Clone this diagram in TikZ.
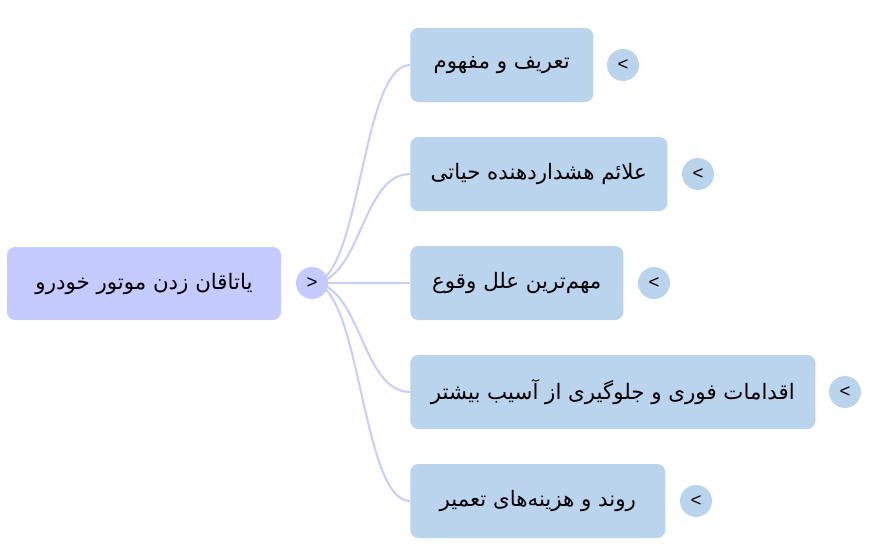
\documentclass[tikz,border=0pt]{standalone}
\usepackage{fontspec}
\setmainfont{Liberation Sans}
\newfontfamily\arabicfont[Script=Arabic]{DejaVu Sans}
\TeXXeTstate=1
\usetikzlibrary{backgrounds}
\definecolor{rootblue}{RGB}{197,202,255}
\definecolor{kidblue}{RGB}{187,212,238}
\definecolor{linkblue}{RGB}{200,205,255}
\tikzstyle{topic}=[rounded corners=6pt,fill=kidblue,minimum height=55.5pt,inner sep=0pt,font=\arabicfont\fontsize{16}{18}\selectfont]
\tikzstyle{roottopic}=[topic,fill=rootblue,minimum height=54.75pt]
\tikzstyle{dot}=[circle,fill=kidblue,minimum size=24pt,inner sep=0pt,font=\fontsize{14}{16}\selectfont]
\tikzstyle{link}=[draw=linkblue,line width=1.5pt]

\begin{document}
\begin{tikzpicture}[x=0.75pt,y=-0.75pt]
  \useasboundingbox (0,0) rectangle (877,550);

  % root topic
  \node[roottopic,minimum width=205.5pt] (root) at (144,283.5) {\beginR یاتاقان زدن موتور خودرو\endR};
  \node[dot,fill=rootblue] (rootdot) at (312,283) {>};

  % sub topics, left edges lined up at x=410
  \node[topic,anchor=west,minimum width=137.25pt] (def) at (410,65) {\beginR تعریف و مفهوم\endR};
  \node[dot] (defdot) at (623,65) {<};
  \node[topic,anchor=west,minimum width=192.75pt] (sign) at (410,174) {\beginR علائم هشداردهنده حیاتی\endR};
  \node[dot] (signdot) at (698,174) {<};
  \node[topic,anchor=west,minimum width=159.75pt] (cause) at (410,283) {\beginR مهم‌ترین علل وقوع\endR};
  \node[dot] (causedot) at (654,283) {<};
  \node[topic,anchor=west,minimum width=303.75pt] (act) at (410,392) {\beginR اقدامات فوری و جلوگیری از آسیب بیشتر\endR};
  \node[dot] (actdot) at (845,392) {<};
  \node[topic,anchor=west,minimum width=191.25pt] (cost) at (410,501) {\beginR روند و هزینه‌های تعمیر\endR};
  \node[dot] (costdot) at (696,501) {<};

  % branches behind the dots
  \begin{scope}[on background layer]
    \foreach \k in {def,sign,cause,act,cost}
      \path[link] (rootdot.center) .. controls +(49,0) and +(-49,0) .. (\k.west);
  \end{scope}
\end{tikzpicture}
\end{document}
